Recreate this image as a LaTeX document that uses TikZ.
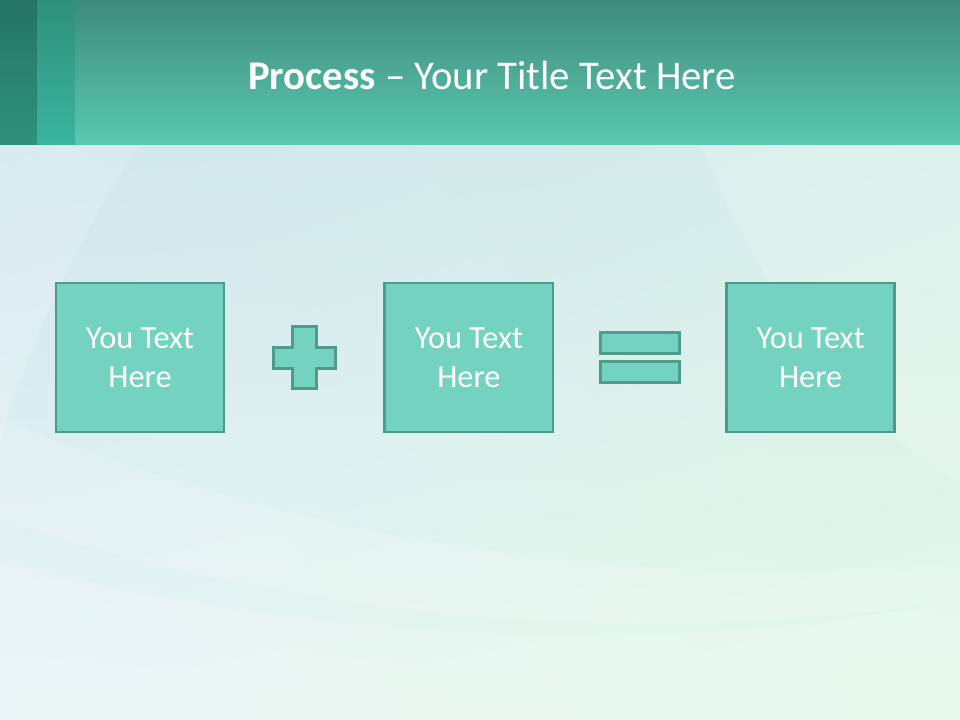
\documentclass[tikz,border=0pt]{standalone}
\usepackage{fontspec}
\setmainfont{Carlito}
\usepackage{xcolor}
\usetikzlibrary{positioning,calc,shadings}

\definecolor{headtop}{HTML}{3F8B7B}
\definecolor{headbot}{HTML}{5AC9B1}
\definecolor{stripdark}{HTML}{257563}
\definecolor{stripdarkb}{HTML}{2F917D}
\definecolor{stripmid}{HTML}{2E907B}
\definecolor{stripmidb}{HTML}{3BB59E}
\definecolor{boxfill}{HTML}{74D3C0}
\definecolor{boxline}{HTML}{4F9A8C}
\definecolor{bgul}{HTML}{D2E6EE}
\definecolor{bgur}{HTML}{D6EEE8}
\definecolor{bgll}{HTML}{E8F5F5}
\definecolor{bglr}{HTML}{E4F9E8}

\begin{document}
\begin{tikzpicture}[
        x=0.025cm, y=-0.025cm,
        every node/.style={font=\fontsize{23}{28}\selectfont},
        textbox/.style={
            draw=boxline,
            line width=2pt,
            fill=boxfill,
            text=white,
            align=center,
            minimum width=4.2cm,
            minimum height=3.72cm
        },
        opshape/.style={draw=boxline, line width=2pt, fill=boxfill},
        swoosh/.style={white, opacity=0.18}
    ]
        \useasboundingbox (0,0) rectangle (960,720);

        % Background
        \shade[upper left=bgul, upper right=bgur, lower left=bgll, lower right=bglr]
            (0,145) rectangle (960,720);
        \fill[swoosh] (0,560) .. controls (300,640) and (650,660) .. (960,600) -- (960,720) -- (0,720) -- cycle;
        \fill[swoosh] (0,420) .. controls (250,520) and (600,600) .. (960,560) -- (960,600)
            .. controls (650,650) and (300,620) .. (0,520) -- cycle;
        \fill[swoosh] (140,145) .. controls (60,260) and (20,380) .. (0,440) -- (0,145) -- cycle;
        \fill[swoosh] (700,145) .. controls (760,280) and (840,420) .. (960,480) -- (960,145) -- cycle;

        % Header
        \shade[top color=headtop, bottom color=headbot] (0,0) rectangle (960,145);
        \shade[top color=stripdark, bottom color=stripdarkb] (0,0) rectangle (37,145);
        \shade[top color=stripmid, bottom color=stripmidb] (37,0) rectangle (75,145);
        \node[text=white, font=\fontsize{29}{34}\selectfont] (title) at (492,75)
            {\textbf{Process} -- Your Title Text Here};

        % Boxes
        \node[textbox] (boxA) at (140,357.5) {You Text\\Here};
        \node[textbox, right=3.95cm of boxA] (boxB) {You Text\\Here};
        \node[textbox, right=4.27cm of boxB] (boxC) {You Text\\Here};

        % Operators
        \coordinate (plus) at ($(boxA.east)!0.5!(boxB.west)$);
        \coordinate (equal) at ($(boxB.east)!0.5!(boxC.west)$);
        \draw[opshape] (plus) ++(-12,-31) -- ++(24,0) -- ++(0,21) -- ++(19,0) -- ++(0,21)
            -- ++(-19,0) -- ++(0,20) -- ++(-24,0) -- ++(0,-20) -- ++(-19,0) -- ++(0,-21)
            -- ++(19,0) -- cycle;
        \draw[opshape] (equal) ++(-39.5,-25) rectangle ++(79,21);
        \draw[opshape] (equal) ++(-39.5,4) rectangle ++(79,21);

    \end{tikzpicture}
\end{document}
